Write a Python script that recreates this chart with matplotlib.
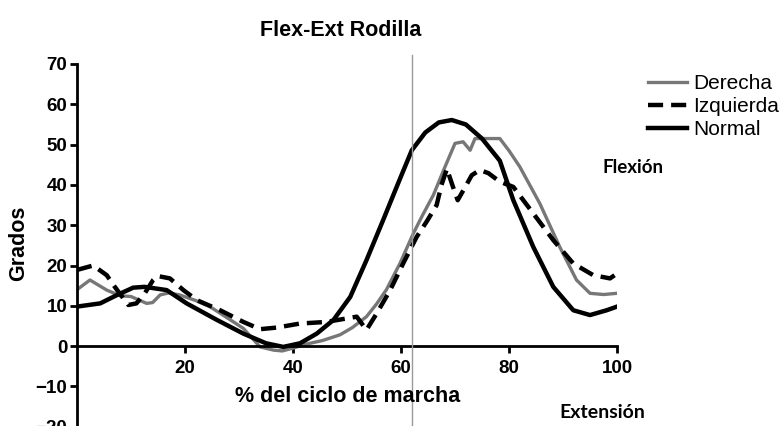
import matplotlib
matplotlib.use("Agg")
import matplotlib.pyplot as plt
from matplotlib.lines import Line2D

# % del ciclo de marcha / grados
x_der = [0, 2.4, 5.5, 8, 10, 12.9, 14, 15.4, 17, 19, 22, 24.6, 27.5, 30.8, 33.9, 36.4, 38, 40,
         42.5, 45.5, 48.7, 51, 53.6, 55.5, 57.3, 59.8, 62.3, 64, 66, 68, 70, 71.5, 72.8,
         73.7, 76, 78.3, 80, 82, 85.7, 89.4, 92.5, 95, 97.5, 100]
y_der = [14, 16.4, 13.9, 12.5, 12.3, 10.6, 10.8, 12.7, 13.2, 12.7, 11.3, 9.8, 7.3, 4.4, -0.2, -1.0, -1.2, -0.5,
         0.5, 1.4, 2.8, 4.6, 7.3, 10.5, 14, 20.5, 28, 32.5, 37.5, 44, 50.3, 50.7, 48.6,
         51.5, 51.5, 51.5, 48.5, 44.5, 35.4, 24.6, 16.4, 13.1, 12.8, 13.1]

x_izq = [0, 3, 5.5, 7, 9.5, 11, 12.5, 14.1, 14.9, 17.2, 19.7, 22.2, 26.5, 30.8, 33.9, 37, 41.3,
         46.2, 51.8, 53.6, 55.5, 58, 60.4, 62.9, 64.8, 66.6, 67.5, 68.5, 69.5, 70.5, 71.9,
         73.1, 74.6, 76.2, 78.3, 80.8, 84.5, 88.2, 91.9, 95.6, 98.7, 100]
y_izq = [18.9, 20, 17.6, 14.7, 10.2, 10.6, 13, 16.4, 17.4, 16.8, 13.9, 11.4, 8.9, 6, 4.2, 4.6, 5.6,
         6, 7.3, 4, 8.1, 13.9, 20.5, 27.1, 31, 35, 40, 44, 40, 36.2, 39.5,
         42.4, 43.7, 42.9, 40.8, 39.5, 32.9, 26.3, 20.5, 17.6, 16.8, 18]

x_nor = [0, 4.3, 7.3, 10.4, 12.5, 16.6, 20.3, 25.9, 30.8, 35, 38.2, 41.3, 44.4, 47.5, 50.6,
         53.6, 56.7, 59.5, 62, 64.5, 67, 69.4, 72, 75, 78.3, 80.8, 84.5, 88.2, 91.9, 95, 98.1, 100]
y_nor = [9.8, 10.6, 12.6, 14.5, 14.7, 13.9, 10.6, 6.5, 3.1, 0.7, -0.2, 0.7, 3.1, 6.5, 12.2,
         21.3, 31.3, 40.5, 48.6, 53, 55.5, 56.1, 55, 51.5, 46, 36.2, 24.6, 14.7, 8.9, 7.7, 8.9, 9.8]

y_ticks = [70, 60, 50, 40, 30, 20, 10, 0, -10, -20]
x_ticks = [20, 40, 60, 80, 100]
linea_vertical = 62


def main():
    plt.rcParams["font.family"] = ["Liberation Sans", "DejaVu Sans"]
    fig = plt.figure(figsize=(7.83, 4.26), dpi=100)
    ax = fig.add_axes([77 / 783, -0.7 / 426, 540 / 783, 362.7 / 426])

    ax.plot(x_der, y_der, color="#777777", lw=2.4, label="Derecha")
    ax.plot(x_izq, y_izq, color="black", lw=3.2, ls=(0, (3.4, 1.8)), label="Izquierda")
    ax.plot(x_nor, y_nor, color="black", lw=3.2, label="Normal")

    ax.set_xlim(0, 100)
    ax.set_ylim(-20, 70)
    ax.set_xticks(x_ticks)
    ax.set_yticks(y_ticks)
    ax.spines["top"].set_visible(False)
    ax.spines["right"].set_visible(False)
    ax.spines["bottom"].set_position(("data", 0))
    ax.spines["left"].set_linewidth(2)
    ax.spines["bottom"].set_linewidth(2)
    ax.tick_params(width=2, length=5, labelsize=13.5, color="black")
    for lab in ax.get_xticklabels() + ax.get_yticklabels():
        lab.set_fontweight("bold")
    ax.tick_params(axis="y", pad=2)
    ax.tick_params(axis="x", pad=5)

    fig.text(341 / 783, 1 - 30 / 426, "Flex-Ext Rodilla", ha="center", va="center",
             fontsize=15.5, fontweight="bold")
    fig.text(19 / 783, 1 - 243 / 426, "Grados", ha="center", va="center", rotation=90,
             fontsize=15.5, fontweight="bold")
    fig.text(348 / 783, 1 - 397 / 426, "% del ciclo de marcha", ha="center", va="center",
             fontsize=15.5, fontweight="bold")
    fig.text(633 / 783, 1 - 168 / 426, "Flexión", ha="center", va="center",
             fontsize=13.5, fontweight="bold", family=["Lato", "DejaVu Sans"])
    fig.text(602 / 783, 1 - 413 / 426, "Extensión", ha="center", va="center",
             fontsize=14, fontweight="bold", family=["Lato", "DejaVu Sans"])

    xv = (77 + linea_vertical * 5.4) / 783
    fig.add_artist(Line2D([xv, xv], [1 - 55 / 426, 0], color="#999999", lw=1))

    fig.legend(loc="upper left", bbox_to_anchor=(648 / 783, 1 - 74 / 426), frameon=False,
               fontsize=15, handlelength=1.85, handletextpad=0.33, labelspacing=0.2,
               borderaxespad=0, borderpad=0)

    fig.savefig("out.png", dpi=100)


if __name__ == "__main__":
    main()
